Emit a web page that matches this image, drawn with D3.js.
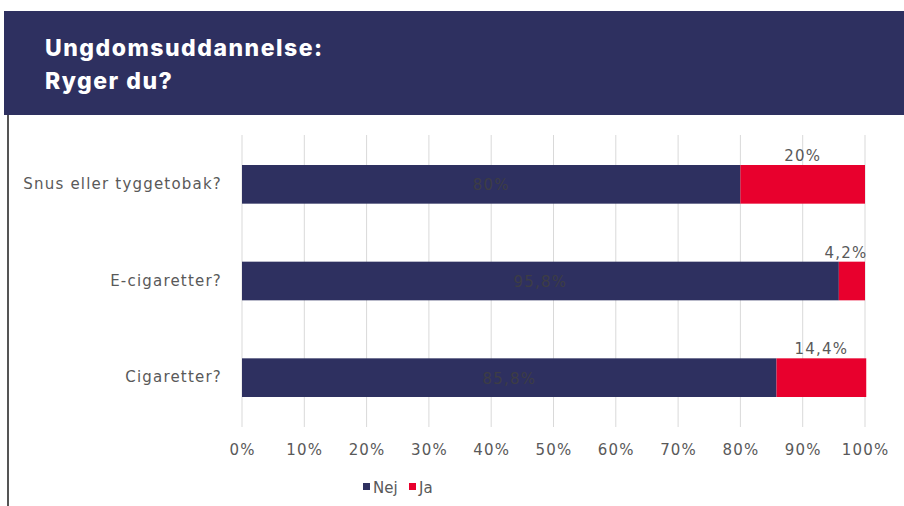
<!DOCTYPE html>
<html>
<head>
<meta charset="utf-8">
<script src="https://cdn.jsdelivr.net/npm/d3@7"></script>
<style>
  body { margin: 0; background: #fff; }
  svg { display: block; }
</style>
</head>
<body>
<div id="chart"></div>
<script>
const categories = ["Snus eller tyggetobak?", "E-cigaretter?", "Cigaretter?"];
const nejValues = [80, 95.8, 85.8];
const jaValues = [20, 4.2, 14.4];
const tickValues = [0, 10, 20, 30, 40, 50, 60, 70, 80, 90, 100];
const seriesNames = ["Nej", "Ja"];

const W = 904, H = 506;
const navy = "#2e3060", red = "#e8002d";
const fmt = v => String(v).replace(".", ",") + "%";

const svg = d3.select("#chart").append("svg")
    .attr("width", W)
    .attr("height", H);

// header band
svg.append("rect")
    .attr("x", 4).attr("y", 11)
    .attr("width", W - 4).attr("height", 104)
    .attr("fill", navy);
["Ungdomsuddannelse:", "Ryger du?"].forEach((t, i) => {
    svg.append("text")
        .attr("x", 45).attr("y", 56 + i * 33)
        .attr("fill", "#fff")
        .style("font-family", "Inter, Roboto, sans-serif")
        .style("font-weight", 800)
        .style("font-size", "23px")
        .style("letter-spacing", "1.5px")
        .text(t);
});

// left border
svg.append("line")
    .attr("x1", 8).attr("x2", 8)
    .attr("y1", 115).attr("y2", H)
    .attr("stroke", "#555")
    .attr("stroke-width", 2);

const x = d3.scaleLinear().domain([0, 100]).range([242, 865]);
const y = d3.scaleBand().domain(categories).range([136, 426]).paddingInner(0.6).paddingOuter(0.3);

const font = "'DejaVu Sans', Verdana, sans-serif";
function styleText(sel, color, spacing = 1.2) {
    sel.attr("fill", color)
        .style("font-family", font)
        .style("font-size", "15px")
        .style("letter-spacing", spacing + "px");
}

// gridlines
svg.append("g")
    .selectAll("line")
    .data(tickValues)
    .enter().append("line")
    .attr("x1", d => x(d)).attr("x2", d => x(d))
    .attr("y1", 135).attr("y2", 427)
    .attr("stroke", "#d9d9d9")
    .attr("stroke-width", 1);

// x axis
const xAxis = svg.append("g")
    .attr("transform", "translate(0, 427)")
    .call(d3.axisBottom(x).tickValues(tickValues).tickFormat(d => d + "%").tickSize(0).tickPadding(17));
xAxis.select(".domain").remove();
styleText(xAxis.selectAll("text"), "#595959");

// y axis
const yAxis = svg.append("g")
    .attr("transform", "translate(242, 0)")
    .call(d3.axisLeft(y).tickSize(0).tickPadding(20));
yAxis.select(".domain").remove();
styleText(yAxis.selectAll("text"), "#595959");

const rows = categories.map((c, i) => ({ cat: c, nej: nejValues[i], ja: jaValues[i] }));

// Nej bars
svg.selectAll(".nej")
    .data(rows)
    .enter().append("rect")
    .attr("class", "nej")
    .attr("x", x(0))
    .attr("y", d => y(d.cat))
    .attr("width", d => x(d.nej) - x(0))
    .attr("height", y.bandwidth())
    .attr("fill", navy);

// Ja bars
svg.selectAll(".ja")
    .data(rows)
    .enter().append("rect")
    .attr("class", "ja")
    .attr("x", d => x(d.nej))
    .attr("y", d => y(d.cat))
    .attr("width", d => x(d.nej + d.ja) - x(d.nej))
    .attr("height", y.bandwidth())
    .attr("fill", red);

// Nej labels (dark on navy)
styleText(svg.selectAll(".nejLabel")
    .data(rows)
    .enter().append("text")
    .attr("x", d => x(d.nej / 2))
    .attr("y", d => y(d.cat) + y.bandwidth() / 2 + 6)
    .attr("text-anchor", "middle")
    .text(d => fmt(d.nej)), "#3d3d45");

// Ja labels above bar
styleText(svg.selectAll(".jaLabel")
    .data(rows)
    .enter().append("text")
    .attr("x", d => Math.min(x(d.nej + d.ja / 2), 846))
    .attr("y", d => y(d.cat) - 4)
    .attr("text-anchor", "middle")
    .text(d => fmt(d.ja)), "#595959");

// legend
const legend = svg.append("g").attr("transform", "translate(363, 487)");
const lx = [0, 46];
seriesNames.forEach((s, i) => {
    legend.append("rect")
        .attr("x", lx[i]).attr("y", -4)
        .attr("width", 7).attr("height", 7)
        .attr("fill", i === 0 ? navy : red);
    styleText(legend.append("text")
        .attr("x", lx[i] + 10).attr("y", 6)
        .text(s), "#595959", 0);
});
</script>
</body>
</html>
